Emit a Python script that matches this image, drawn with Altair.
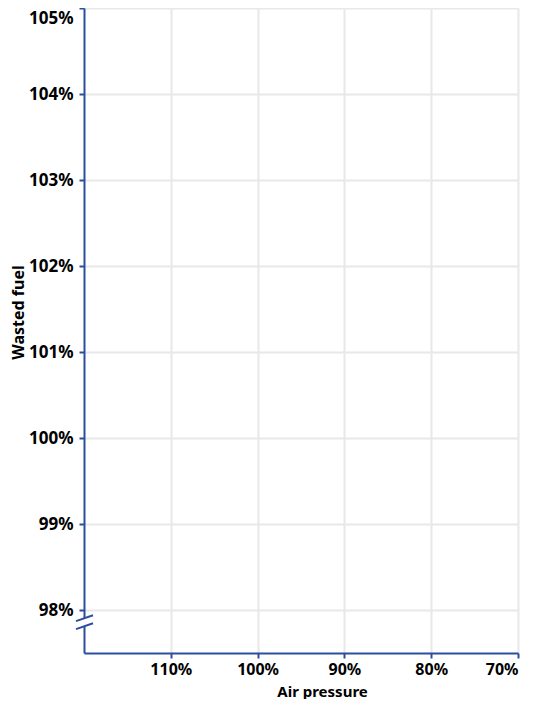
import altair as alt
import pandas as pd

# Axis tick values (fractions shown as percentages)
x_ticks = [1.1, 1.0, 0.9, 0.8, 0.7]
y_ticks = [0.98, 0.99, 1.00, 1.01, 1.02, 1.03, 1.04, 1.05]
x_domain = [0.7, 1.2]
y_domain = [0.975, 1.05]

# Axis-break decoration (two slanted strokes across the y axis)
break_x1 = [1.2092, 1.2092]
break_x2 = [1.1896, 1.1896]
break_y1 = [0.97870, 0.97777]
break_y2 = [0.97939, 0.97846]
# gap in the y-axis line between the strokes
gap_y1 = [0.97812]
gap_y2 = [0.97905]
gap_x = [1.2]

AXIS_BLUE = "#2b4f9e"
FONT = "Noto Sans"

breaks = pd.DataFrame({"x": break_x1, "x2": break_x2, "y": break_y1, "y2": break_y2})
gap = pd.DataFrame({"x": gap_x, "y": gap_y1, "y2": gap_y2})

x_enc = alt.X(
    "x:Q",
    scale=alt.Scale(domain=x_domain, reverse=True, nice=False, zero=False),
    axis=alt.Axis(
        values=x_ticks, format=".0%", title="Air pressure",
        titleX=238, titleY=38, titleAlign="center", titleBaseline="middle",
        labelPadding=3, titleFontSize=15,
    ),
)
y_enc = alt.Y(
    "y:Q",
    scale=alt.Scale(domain=y_domain, nice=False, zero=False),
    axis=alt.Axis(
        values=y_ticks, format=".0%", title="Wasted fuel",
        titleX=-66, titleY=304, titleAlign="center", titleBaseline="middle", titleAngle=270,
        labelPadding=6, labelFontSize=17,
        labelBaseline=alt.condition("datum.value > 1.045", alt.value("top"), alt.value("middle")),
        labelOffset=alt.condition("datum.value > 1.045", alt.value(2), alt.value(0)),
    ),
)

gap_layer = alt.Chart(gap).mark_rule(color="white", strokeWidth=5).encode(
    x=x_enc, y=y_enc, y2="y2:Q"
)
break_layer = alt.Chart(breaks).mark_rule(color=AXIS_BLUE, strokeWidth=2).encode(
    x=x_enc, x2="x2:Q", y=y_enc, y2="y2:Q"
)

chart = alt.layer(gap_layer, break_layer).properties(
    width=434, height=645,
    autosize=alt.AutoSizeParams(type="none"),
    padding={"left": 76, "top": 0, "right": 11, "bottom": 46},
).configure_view(stroke=None).configure_axis(
    domainColor=AXIS_BLUE, domainWidth=2,
    tickColor=AXIS_BLUE, tickWidth=2, tickSize=5,
    gridColor="#e8e8e8", gridWidth=2,
    labelFont=FONT, labelFontSize=16, labelFontWeight="bold", labelColor="#000000",
    titleFont=FONT, titleFontSize=16, titleFontWeight="bold", titleColor="#000000",
)

chart.save("out.html", embed_options={"renderer": "svg", "actions": False})
